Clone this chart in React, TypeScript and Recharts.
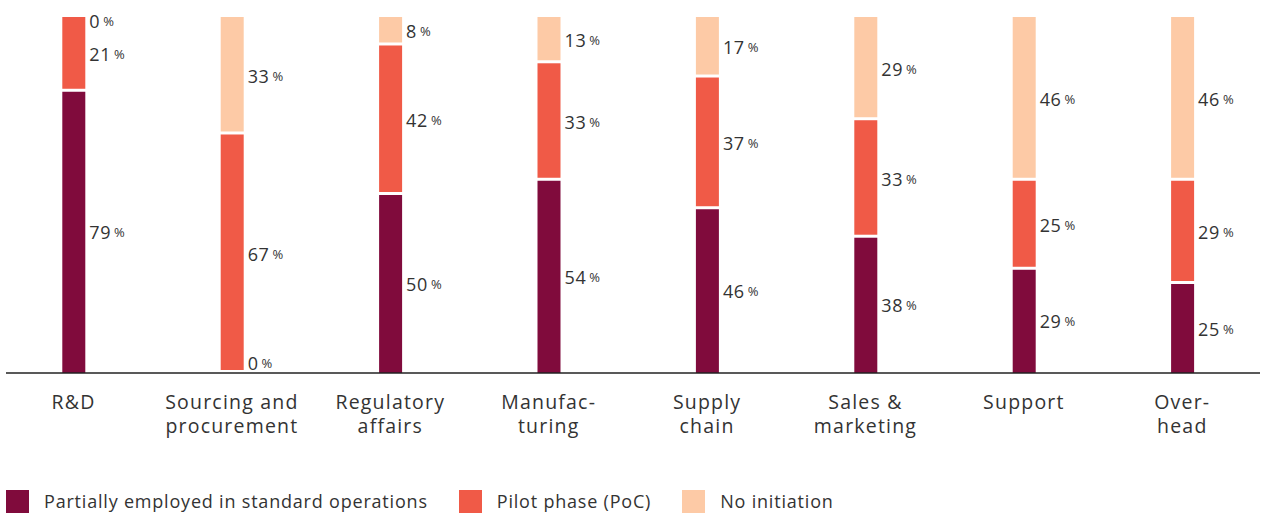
import React from "react";
import { BarChart, Bar, XAxis, YAxis, Legend, LabelList } from "recharts";

const categories = ["R&D", "Sourcing and procurement", "Regulatory affairs", "Manufacturing", "Supply chain", "Sales & marketing", "Support", "Overhead"];
const tickLines = [["R&D"], ["Sourcing and", "procurement"], ["Regulatory", "affairs"], ["Manufac-", "turing"], ["Supply", "chain"], ["Sales &", "marketing"], ["Support"], ["Over-", "head"]];
const partial = [79, 0, 50, 54, 46, 38, 29, 25];
const pilot = [21, 67, 42, 33, 37, 33, 25, 29];
const noInit = [0, 33, 8, 13, 17, 29, 46, 46];
const seriesNames = ["Partially employed in standard operations", "Pilot phase (PoC)", "No initiation"];
const colors = ["#800b3c", "#f05a47", "#fdcaa6"];

const data = categories.map((c, i) => ({ name: c, idx: i, partial: partial[i], pilot: pilot[i], none: noInit[i] }));

const FONT = "'Open Sans', sans-serif";
const TOP = 17;
const BASE = 373;

const renderLabel = (props: any) => {
  const x = Number(props.x), y = Number(props.y), w = Number(props.width), h = Number(props.height);
  let cy = y + h / 2;
  cy = Math.min(Math.max(cy, TOP + 3.5), BASE - 10);
  return (
    <text x={x + w + 4} y={cy} dominantBaseline="central" fontFamily={FONT} fontSize={18} letterSpacing={0.6} fill="#333">
      {props.value}
      <tspan fontSize={13} dx={3}>%</tspan>
    </text>
  );
};

const GapShape = (props: any) => {
  const h = Math.max(0, props.height - 3);
  if (h <= 0) return <g />;
  return <rect x={props.x} y={props.y} width={props.width} height={h} fill={props.fill} />;
};

const FullShape = (props: any) => {
  if (!(props.height > 0)) return <g />;
  return <rect x={props.x} y={props.y} width={props.width} height={props.height} fill={props.fill} />;
};

const Tick = (props: any) => {
  const { x, y, payload } = props;
  const lines = tickLines[payload.index] || [String(payload.value)];
  return (
    <g>
      {lines.map((l, i) => (
        <text key={i} x={x} y={y + 36 + i * 24} textAnchor="middle" fontFamily={FONT} fontSize={19.5} letterSpacing={1.2} fill="#333">{l}</text>
      ))}
    </g>
  );
};

const LegendContent = () => (
  <div style={{ display: "flex", alignItems: "center", height: 26, paddingLeft: 6, fontFamily: FONT, fontSize: 18, letterSpacing: 0.8, color: "#333" }}>
    {seriesNames.map((n, i) => (
      <div key={i} style={{ display: "flex", alignItems: "center", marginRight: 31 }}>
        <div style={{ width: 23, height: 23, background: colors[i], marginRight: 15 }} />
        <span style={{ whiteSpace: "nowrap" }}>{n}</span>
      </div>
    ))}
  </div>
);

export default function App() {
  return (
    <div style={{ position: "absolute", left: 0, top: 0, width: 1264, height: 514, background: "#fff" }}>
      <BarChart width={1264} height={514} data={data} margin={{ top: TOP, right: 4, bottom: 0, left: 6 }} barSize={23}>
        <XAxis
          dataKey="name"
          interval={0}
          tickLine={false}
          tickSize={0}
          tickMargin={0}
          height={115}
          padding={{ left: -11.7, right: -1.5 }}
          axisLine={{ stroke: "#222", strokeWidth: 1.3 }}
          tick={<Tick />}
        />
        <YAxis hide domain={[0, 100]} />
        <Legend verticalAlign="bottom" height={26} wrapperStyle={{ left: 0, width: 1264 }} content={<LegendContent />} />
        <Bar dataKey="partial" stackId="a" fill={colors[0]} isAnimationActive={false} shape={<FullShape />}>
          <LabelList dataKey="partial" content={renderLabel} />
        </Bar>
        <Bar dataKey="pilot" stackId="a" fill={colors[1]} isAnimationActive={false} shape={<GapShape />}>
          <LabelList dataKey="pilot" content={renderLabel} />
        </Bar>
        <Bar dataKey="none" stackId="a" fill={colors[2]} isAnimationActive={false} shape={<GapShape />}>
          <LabelList dataKey="none" content={renderLabel} />
        </Bar>
      </BarChart>
    </div>
  );
}
